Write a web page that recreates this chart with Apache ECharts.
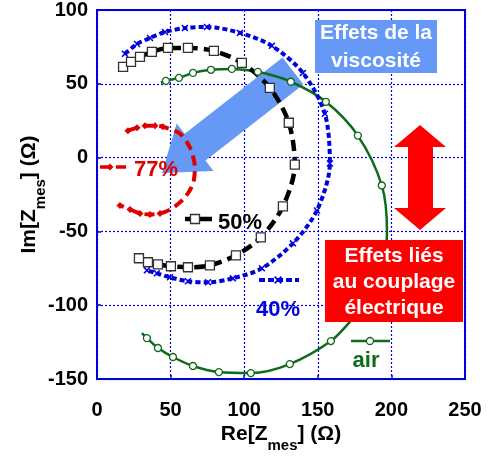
<!DOCTYPE html>
<html>
<head>
<meta charset="utf-8">
<script src="https://cdn.jsdelivr.net/npm/echarts@6/dist/echarts.min.js"></script>
<style>
html,body{margin:0;padding:0;background:#fff;}
#c{width:492px;height:459px;}
</style>
</head>
<body>
<div id="c"></div>
<script>
// ---- data (Re, Im in ohms; mk = 1 where a marker is drawn) ----
const airRe = [30.5,33.9,41.4,51.6,65.2,82.8,104.5,131,158.9,173,186,194,197,193.5,177.2,155.5,131.7,109.3,91.6,77.4,65.2,55.7,46.8,43.4];
const airIm = [-118.9,-122.3,-129,-135.1,-141.2,-145.3,-146,-139.9,-124.3,-110,-95,-75,-50,-18.9,14.9,37.8,51.4,58.1,60.1,59.5,57.4,54,52,50.7];
const airMk = [0,1,1,1,1,1,1,1,1,0,0,0,0,1,1,1,1,1,1,1,1,1,1,0];

const p40Re = [19,27.2,36,46.2,59.7,74.7,97.1,118.8,139.9,154.8,158.2,149.4,133.1,112,92.3,75.4,61.8,49.6,40.7,33.9];
const p40Im = [70.3,77,81,85.1,87.8,88.5,84.5,75.7,57.4,29.7,-4,-35.8,-58.1,-75,-81.8,-84.5,-83.8,-81.1,-78.4,-76.4];

const p50Re = [17.7,23.1,29.2,37.3,48.2,61.8,79.4,98.4,117.4,130.3,134.4,126.3,111.3,94.4,76.7,61.8,50.2,41.4,34.6,28.5];
const p50Im = [61.5,64.9,68.2,71.6,74.3,74.3,72.3,64.2,47.3,23.6,-4.7,-33.1,-54.1,-66.2,-73,-74.3,-73.6,-72.3,-70.9,-68.2];

const p77Re = [21,27.2,32.6,39.4,44.8,56.3,63.1,66.5,65.2,59.7,50.9,42.8,36,29.2,22.4,15.6];
const p77Im = [18.2,20.3,21.6,21.6,20.9,16.2,6.8,-6.8,-17.6,-27,-34.5,-37.8,-38.5,-37.8,-35.1,-32.4];
const p77Mk = [1,1,1,1,1,0,0,0,0,0,0,1,1,1,1,1];

const xTicks = [0,50,100,150,200,250];
const yTicks = [-150,-100,-50,0,50,100];

const GREEN = '#0f6b1a', BLUE = '#0000dd', RED = '#e00000', ARROWBLUE = '#6699f5';
const FF = '"Liberation Sans", Arial, sans-serif';
const X_ICON = 'path://M0,1.5L1.5,0L5,3.5L8.5,0L10,1.5L6.5,5L10,8.5L8.5,10L5,6.5L1.5,10L0,8.5L3.5,5Z';

function pts(re, im, mk) {
  return re.map((r, i) => {
    const it = { value: [r, im[i]] };
    if (mk && !mk[i]) it.symbol = 'none';
    return it;
  });
}
function xShape(cx, cy, h, t) {
  return [[cx-h,cy-h+t],[cx-h+t,cy-h],[cx,cy-t],[cx+h-t,cy-h],[cx+h,cy-h+t],[cx+t,cy],[cx+h,cy+h-t],[cx+h-t,cy+h],[cx,cy+t],[cx-h+t,cy+h],[cx-h,cy+h-t],[cx-t,cy]];
}

const chart = echarts.init(document.getElementById('c'), null, { renderer: 'canvas' });

const axisCommon = {
  axisLine: { show: true, onZero: false, lineStyle: { color: BLUE, width: 2 } },
  axisTick: { show: true, inside: true, length: 4, lineStyle: { color: BLUE, width: 1.5 } },
  splitLine: { show: true, lineStyle: { color: BLUE, width: 1.2, type: [2, 2] } },
  axisLabel: { color: '#000', fontSize: 20, fontWeight: 'bold', fontFamily: FF },
  nameLocation: 'middle',
  nameMoveOverlap: false
};
const nameRich = {
  a: { fontSize: 21, fontWeight: 'bold', fontFamily: FF, color: '#000', verticalAlign: 'top', lineHeight: 26 },
  s: { fontSize: 15, fontWeight: 'bold', fontFamily: FF, color: '#000', verticalAlign: 'top', lineHeight: 26, padding: [14, 0, 0, 0] }
};

const option = {
  animation: false,
  backgroundColor: '#fff',
  grid: { left: 97, right: 27, top: 9, bottom: 80, show: true, borderColor: BLUE, borderWidth: 2, backgroundColor: 'transparent' },
  xAxis: Object.assign({}, axisCommon, {
    type: 'value', min: xTicks[0], max: xTicks[xTicks.length - 1], interval: 50,
    axisLabel: Object.assign({}, axisCommon.axisLabel, { margin: 21 }),
    name: '{a|Re[Z}{s|mes}{a|] (Ω)}',
    nameGap: 45,
    nameTextStyle: { rich: nameRich }
  }),
  yAxis: Object.assign({}, axisCommon, {
    type: 'value', min: yTicks[0], max: yTicks[yTicks.length - 1], interval: 50,
    axisLabel: Object.assign({}, axisCommon.axisLabel, { margin: 9 }),
    name: '{a|Im[Z}{s|mes}{a|] (Ω)}',
    nameGap: 52,
    nameRotate: 90,
    nameTextStyle: { rich: nameRich }
  }),
  series: [
    {
      name: 'air', type: 'line', data: pts(airRe, airIm, airMk), smooth: 0.3, z: 3,
      symbol: 'circle', symbolSize: 7, showSymbol: true,
      lineStyle: { color: GREEN, width: 2.5 },
      itemStyle: { color: '#fff', borderColor: GREEN, borderWidth: 1.3 }
    },
    {
      name: '40%', type: 'line', data: pts(p40Re, p40Im), smooth: 0.3, z: 3,
      symbol: X_ICON, symbolSize: 7,
      lineStyle: { color: BLUE, width: 4, type: [5, 3] },
      itemStyle: { color: BLUE }
    },
    {
      name: '50%', type: 'line', data: pts(p50Re, p50Im), smooth: 0.3, z: 3,
      symbol: 'rect', symbolSize: 9,
      lineStyle: { color: '#000', width: 4.5, type: [11, 6] },
      itemStyle: { color: '#fff', borderColor: '#333', borderWidth: 1.3 }
    },
    {
      name: '77%', type: 'line', data: pts(p77Re, p77Im, p77Mk), smooth: 0.3, z: 3,
      symbol: 'diamond', symbolSize: 7,
      lineStyle: { color: RED, width: 4, type: [10, 6] },
      itemStyle: { color: RED }
    }
  ],
  graphic: [
    { type: 'polygon', z: 1, shape: { points: [[303.4,84.4],[282.6,57.6],[184.7,133.8],[176.7,123.5],[162,173],[213.5,170.9],[205.5,160.6]] }, style: { fill: ARROWBLUE } },
    { type: 'rect', z: 1, shape: { x: 315, y: 20, width: 122, height: 53 }, style: { fill: ARROWBLUE } },
    { type: 'text', z: 11, x: 376, y: 47, style: { text: 'Effets de la\nviscosité', fill: '#fff', font: 'bold 21px ' + FF, align: 'center', verticalAlign: 'middle', lineHeight: 28 } },
    { type: 'polygon', z: 10, shape: { points: [[420,125],[446,147],[433,147],[433,208],[446,208],[420,230],[394,208],[408,208],[408,147],[394,147]] }, style: { fill: '#ff0000' } },
    { type: 'rect', z: 10, shape: { x: 325, y: 240, width: 138, height: 82 }, style: { fill: '#ff0000' } },
    { type: 'text', z: 11, x: 394, y: 282, style: { text: 'Effets liés\nau couplage\nélectrique', fill: '#fff', font: 'bold 21px ' + FF, align: 'center', verticalAlign: 'middle', lineHeight: 26 } },
    { type: 'line', z: 10, shape: { x1: 100, y1: 167, x2: 127, y2: 167 }, style: { stroke: RED, lineWidth: 3.5, lineDash: [10, 6] } },
    { type: 'polygon', z: 10, shape: { points: [[110,163.5],[113.5,167],[110,170.5],[106.5,167]] }, style: { fill: RED } },
    { type: 'text', z: 10, x: 156, y: 170, style: { text: '77%', fill: RED, font: 'bold 22px ' + FF, align: 'center', verticalAlign: 'middle' } },
    { type: 'line', z: 10, shape: { x1: 185, y1: 219, x2: 212, y2: 219 }, style: { stroke: '#000', lineWidth: 4.5 } },
    { type: 'rect', z: 10, shape: { x: 190.5, y: 214.5, width: 9, height: 9 }, style: { fill: '#fff', stroke: '#333', lineWidth: 1.3 } },
    { type: 'text', z: 10, x: 240, y: 223, style: { text: '50%', fill: '#000', font: 'bold 22px ' + FF, align: 'center', verticalAlign: 'middle' } },
    { type: 'line', z: 10, shape: { x1: 259, y1: 280, x2: 299, y2: 280 }, style: { stroke: BLUE, lineWidth: 4, lineDash: [6, 3] } },
    { type: 'polygon', z: 10, shape: { points: xShape(278, 280, 4, 1.2) }, style: { fill: BLUE } },
    { type: 'text', z: 10, x: 278, y: 310, style: { text: '40%', fill: BLUE, font: 'bold 22px ' + FF, align: 'center', verticalAlign: 'middle' } },
    { type: 'line', z: 10, shape: { x1: 351, y1: 341, x2: 390, y2: 341 }, style: { stroke: GREEN, lineWidth: 2.5 } },
    { type: 'circle', z: 10, shape: { cx: 370, cy: 341, r: 3.5 }, style: { fill: '#fff', stroke: GREEN, lineWidth: 1.3 } },
    { type: 'text', z: 10, x: 366, y: 361, style: { text: 'air', fill: GREEN, font: 'bold 22px ' + FF, align: 'center', verticalAlign: 'middle' } }
  ]
};

chart.setOption(option);
</script>
</body>
</html>
